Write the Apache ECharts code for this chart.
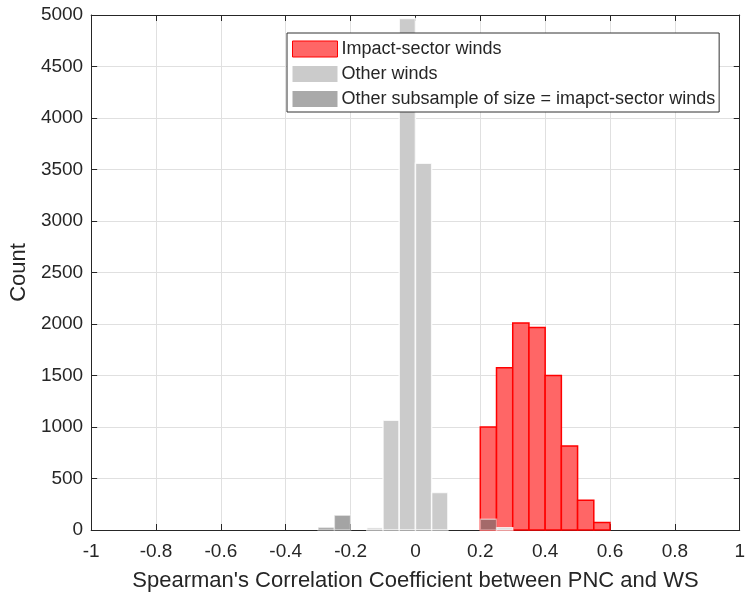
<!DOCTYPE html>
<html>
<head>
<meta charset="utf-8">
<script src="https://cdn.jsdelivr.net/npm/echarts@6/dist/echarts.min.js"></script>
<style>
html,body{margin:0;padding:0;background:#fff;}
#chart{width:748px;height:601px;}
</style>
</head>
<body>
<div id="chart"></div>
<script>
// ---- data ----
const binWidth = 0.05;
const impactBinStarts = [0.20, 0.25, 0.30, 0.35, 0.40, 0.45, 0.50, 0.55];
const impactCounts    = [1000, 1575, 2010, 1965, 1500, 815, 290, 72];
const otherBinStarts  = [-0.15, -0.10, -0.05, 0.00, 0.05, 0.25];
const otherCounts     = [22, 1065, 4965, 3560, 365, 22];
const subBinStarts    = [-0.30, -0.25, 0.20];
const subCounts       = [25, 143, 105];
const seriesNames = ['Impact-sector winds', 'Other winds', 'Other subsample of size = imapct-sector winds'];
const xTicks = [-1, -0.8, -0.6, -0.4, -0.2, 0, 0.2, 0.4, 0.6, 0.8, 1];
const yTicks = [0, 500, 1000, 1500, 2000, 2500, 3000, 3500, 4000, 4500, 5000];

function toData(starts, counts) {
  return starts.map((s, i) => [s, s + binWidth, counts[i]]);
}

function makeRender(fill, stroke, lw, opacity) {
  return function (params, api) {
    const p0 = api.coord([api.value(0), 0]);
    const p1 = api.coord([api.value(1), api.value(2)]);
    return {
      type: 'rect',
      shape: { x: p0[0], y: p1[1], width: p1[0] - p0[0], height: p0[1] - p1[1] },
      style: { fill: fill, stroke: stroke, lineWidth: lw, opacity: opacity }
    };
  };
}

const textColor = '#262626';
const font = 'Liberation Sans, Arial, Helvetica, sans-serif';
const chart = echarts.init(document.getElementById('chart'));

const axisCommon = {
  axisLine: { show: true, onZero: false, lineStyle: { color: textColor, width: 1 } },
  axisTick: { show: true, inside: true, length: 6, lineStyle: { color: textColor } },
};

chart.setOption({
  animation: false,
  backgroundColor: '#fff',
  textStyle: { fontFamily: font },
  grid: { left: 91, right: 7, top: 15, bottom: 71, containLabel: false },
  legend: {
    orient: 'vertical',
    left: 287, top: 33,
    backgroundColor: '#fff',
    borderColor: '#333',
    borderWidth: 1,
    padding: [7, 4, 4, 5],
    itemWidth: 45, itemHeight: 16, itemGap: 7,
    textStyle: { fontSize: 18, color: textColor, fontFamily: font, padding: [0, 0, 0, -1] },
    data: [
      { name: seriesNames[0], icon: 'rect', itemStyle: { color: '#ff6666', borderColor: '#ff0000', borderWidth: 1 } },
      { name: seriesNames[1], icon: 'rect', itemStyle: { color: '#cbcbcb', borderWidth: 0 } },
      { name: seriesNames[2], icon: 'rect', itemStyle: { color: '#a9a9a9', borderWidth: 0 } }
    ]
  },
  xAxis: [{
    type: 'value', min: -1, max: 1, interval: 0.2, position: 'bottom',
    ...axisCommon,
    axisLabel: { fontSize: 19, color: textColor, margin: 12,
      formatter: v => { const t = xTicks.find(x => Math.abs(x - v) < 1e-9); return String(t !== undefined ? t : Number(v.toFixed(1))); } },
    splitLine: { show: true, lineStyle: { color: '#e0e0e0', width: 1 } },
    name: "Spearman's Correlation Coefficient between PNC and WS",
    nameLocation: 'middle', nameGap: 40,
    nameTextStyle: { fontSize: 22, color: textColor }
  }, {
    type: 'value', min: -1, max: 1, interval: 0.2, position: 'top',
    ...axisCommon, axisLabel: { show: false }, splitLine: { show: false }
  }],
  yAxis: [{
    type: 'value', min: yTicks[0], max: yTicks[yTicks.length - 1], interval: 500, position: 'left',
    ...axisCommon,
    axisLabel: { fontSize: 19, color: textColor, margin: 8, formatter: v => String(v) },
    splitLine: { show: true, lineStyle: { color: '#e0e0e0', width: 1 } },
    name: 'Count', nameLocation: 'middle', nameGap: 58,
    nameTextStyle: { fontSize: 22, color: textColor }
  }, {
    type: 'value', min: yTicks[0], max: yTicks[yTicks.length - 1], interval: 500, position: 'right',
    ...axisCommon, axisLabel: { show: false }, splitLine: { show: false }
  }],
  series: [
    {
      name: seriesNames[0], type: 'custom', xAxisIndex: 0, yAxisIndex: 0,
      itemStyle: { color: '#ff6666' },
      renderItem: makeRender('#ff6666', '#ff0000', 1.5, 1),
      encode: { x: [0, 1], y: 2 },
      data: toData(impactBinStarts, impactCounts), z: 2
    },
    {
      name: seriesNames[1], type: 'custom', xAxisIndex: 0, yAxisIndex: 0,
      itemStyle: { color: '#cbcbcb' },
      renderItem: makeRender('#cbcbcb', 'rgba(255,255,255,0.8)', 1.5, 1),
      encode: { x: [0, 1], y: 2 },
      data: toData(otherBinStarts, otherCounts), z: 3
    },
    {
      name: seriesNames[2], type: 'custom', xAxisIndex: 0, yAxisIndex: 0,
      itemStyle: { color: '#a9a9a9' },
      renderItem: makeRender('rgb(108,108,108)', 'rgba(255,255,255,0.8)', 1.5, 0.62),
      encode: { x: [0, 1], y: 2 },
      data: toData(subBinStarts, subCounts), z: 4
    }
  ]
});
</script>
</body>
</html>
